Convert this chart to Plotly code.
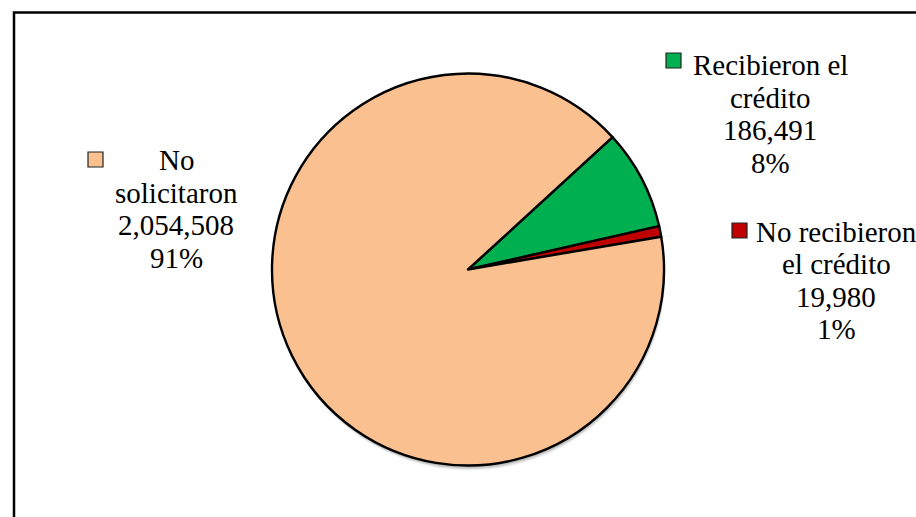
import plotly.graph_objects as go

W, H = 916, 517

# Slices in clockwise order starting from the green wedge
categories = ["Recibieron el crédito", "No recibieron el crédito", "No solicitaron"]
label_lines = [["Recibieron el", "crédito"], ["No recibieron", "el crédito"], ["No", "solicitaron"]]
values = [186491, 19980, 2054508]
colors = ["#00B050", "#C00000", "#FAC090"]

# Label block layout (pixels from top-left): text centre x, first baseline y, square box
label_cx = [770, 836, 176]
label_base = [75, 241.5, 170]
square_xy = [(666, 53), (732, 223), (88, 152)]
LINE_STEP = 32.5
SQ = 15
FONT = "Liberation Serif"
FS = 29

cx, cy, r = 468, 269.5, 196


def px(x):
    return x / W


def py(y):
    return (H - y) / H


fig = go.Figure()
fig.add_trace(go.Pie(
    labels=categories,
    values=values,
    sort=False,
    direction="clockwise",
    rotation=47.5,
    marker=dict(colors=colors, line=dict(color="#000000", width=2.4)),
    textinfo="none",
    hoverinfo="label+value+percent",
    showlegend=False,
    domain=dict(x=[px(cx - r), px(cx + r)], y=[py(cy + r), py(cy - r)]),
))

shapes = []
# soft drop shadow under the pie
for off, alpha in [(5, 0.05), (4, 0.07), (3, 0.09), (2, 0.1)]:
    shapes.append(dict(type="circle", xref="paper", yref="paper", layer="below",
                       x0=px(cx - r + off * 0.3), x1=px(cx + r + off * 0.3),
                       y0=py(cy + r + off), y1=py(cy - r + off),
                       fillcolor=f"rgba(0,0,0,{alpha})", line=dict(width=0)))
# chart frame
shapes.append(dict(type="rect", xref="paper", yref="paper",
                   x0=px(14), x1=px(W + 20), y0=py(H + 20), y1=py(12.5),
                   line=dict(color="#000000", width=2.5), fillcolor="rgba(0,0,0,0)"))

total = sum(values)
annotations = []
for i in range(len(values)):
    pct = round(values[i] / total * 100)
    lines = label_lines[i] + [f"{values[i]:,}", f"{pct}%"]
    for k, line in enumerate(lines):
        base = label_base[i] + k * LINE_STEP
        annotations.append(dict(
            x=px(label_cx[i]), y=py(base - 9.8), xref="paper", yref="paper",
            text=line, showarrow=False, xanchor="center", yanchor="middle",
            font=dict(family=FONT, size=FS, color="#000000"),
        ))
    sx, sy = square_xy[i]
    shapes.append(dict(type="rect", xref="paper", yref="paper",
                       x0=px(sx), x1=px(sx + SQ), y0=py(sy + SQ), y1=py(sy),
                       fillcolor=colors[i], line=dict(color="#222222", width=1.2)))

fig.update_layout(
    width=W, height=H,
    margin=dict(l=0, r=0, t=0, b=0),
    paper_bgcolor="#FFFFFF",
    plot_bgcolor="#FFFFFF",
    font=dict(family=FONT),
    shapes=shapes,
    annotations=annotations,
)

fig.write_html("out.html")
